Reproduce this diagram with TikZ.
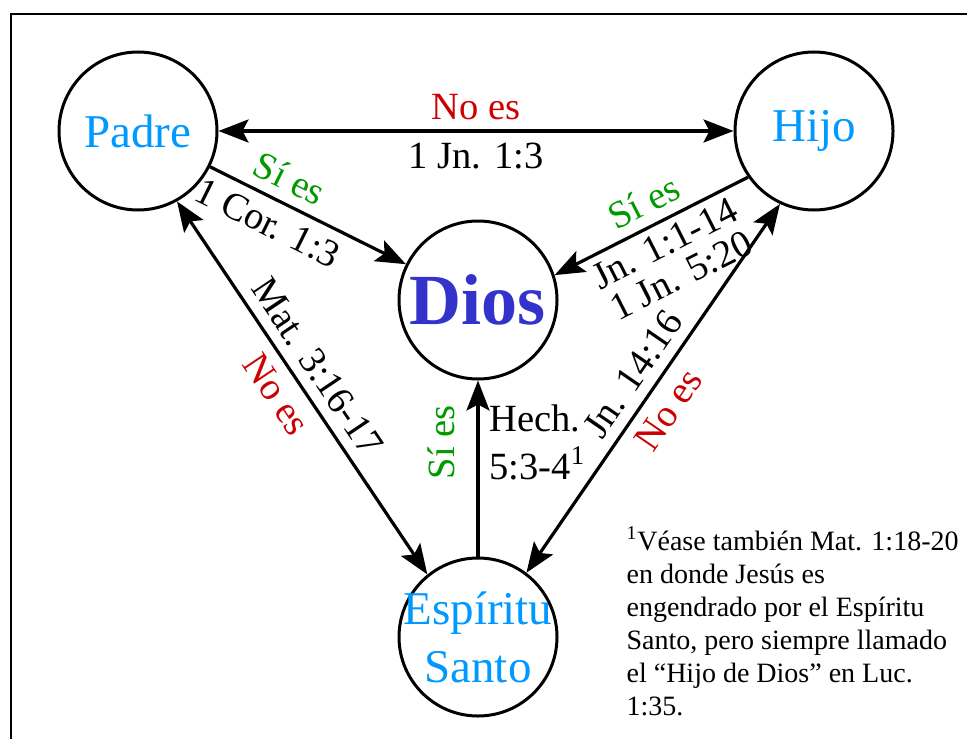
\documentclass[tikz,border=0pt]{standalone}
\usepackage{fontspec}
\setmainfont{Liberation Serif}
\usepackage{tikz}
\usetikzlibrary{arrows.meta}

\definecolor{azul}{HTML}{0099FF}
\definecolor{azuldios}{HTML}{3333CC}
\definecolor{rojo}{HTML}{CC0000}
\definecolor{verde}{HTML}{009900}

\begin{document}
\begin{tikzpicture}[x=0.5pt, y=-0.5pt,
        >={Stealth[length=15pt, width=11.5pt, inset=3pt]},
        every path/.style={line width=1.6pt},
        persona/.style={circle, draw, line width=1.5pt, minimum size=79pt, inner sep=0pt},
        nombre/.style={text=azul, font=\fontsize{23.5}{29}\selectfont, align=center},
        etiqueta/.style={font=\fontsize{19.25}{18}\selectfont, inner sep=5pt, align=center},
        si/.style={etiqueta, text=verde},
        no/.style={etiqueta, text=rojo}]

        \useasboundingbox (0,0) rectangle (967,738);
        \draw[line width=1pt] (11,14) rectangle (990,760);

        \node[persona] (padre) at (138,131) {};
        \node[persona] (hijo) at (814,131) {};
        \node[persona] (dios) at (478,300) {};
        \node[persona] (espiritu) at (478,637) {};

        \node[nombre] (padre-t) at (padre) {Padre};
        \node[nombre] (hijo-t) at (hijo) {Hijo};
        \node[nombre] (espiritu-t) at (espiritu) {Espíritu\\Santo};
        \node[text=azuldios, font=\fontsize{36}{40}\selectfont\bfseries] (dios-t) at (dios) {Dios};

        \draw[<->] (padre) -- (hijo) node[midway, above, no] {No es} node[midway, below, etiqueta] {1 Jn. 1:3};

        \draw[->] (padre) -- (dios) node[pos=0.35, sloped, above, si] {Sí es} node[pos=0.35, sloped, below, etiqueta] {1 Cor. 1:3};
        \draw[->] (hijo.215) -- (dios.18) node[pos=0.48, sloped, above, si] {Sí es} node[pos=0.48, sloped, below, etiqueta, inner sep=3.5pt] {Jn. 1:1-14\\1 Jn. 5:20};
        \draw[->] (espiritu) -- (dios) node[pos=0.65, anchor=south, rotate=90, si, inner sep=11pt] {Sí es} node[pos=0.65, anchor=west, etiqueta, align=left, font=\fontsize{19.25}{24}\selectfont] {Hech.\\5:3-4\textsuperscript{1}};

        \draw[<->] (padre.299) -- (espiritu.129) node[pos=0.48, sloped, above, etiqueta] {Mat. 3:16-17} node[pos=0.48, sloped, below, no] {No es};
        \draw[<->] (hijo.245) -- (espiritu.53) node[pos=0.5, sloped, above, etiqueta] {Jn. 14:16} node[pos=0.52, sloped, below, no] {No es};

        \node[anchor=north west, inner sep=0pt, align=left, font=\fontsize{14}{16.5}\selectfont] (nota) at (625,525) {\textsuperscript{1}Véase también Mat. 1:18-20\\en donde Jesús es\\engendrado por el Espíritu\\Santo, pero siempre llamado\\el “Hijo de Dios” en Luc.\\1:35.};
    \end{tikzpicture}
\end{document}
